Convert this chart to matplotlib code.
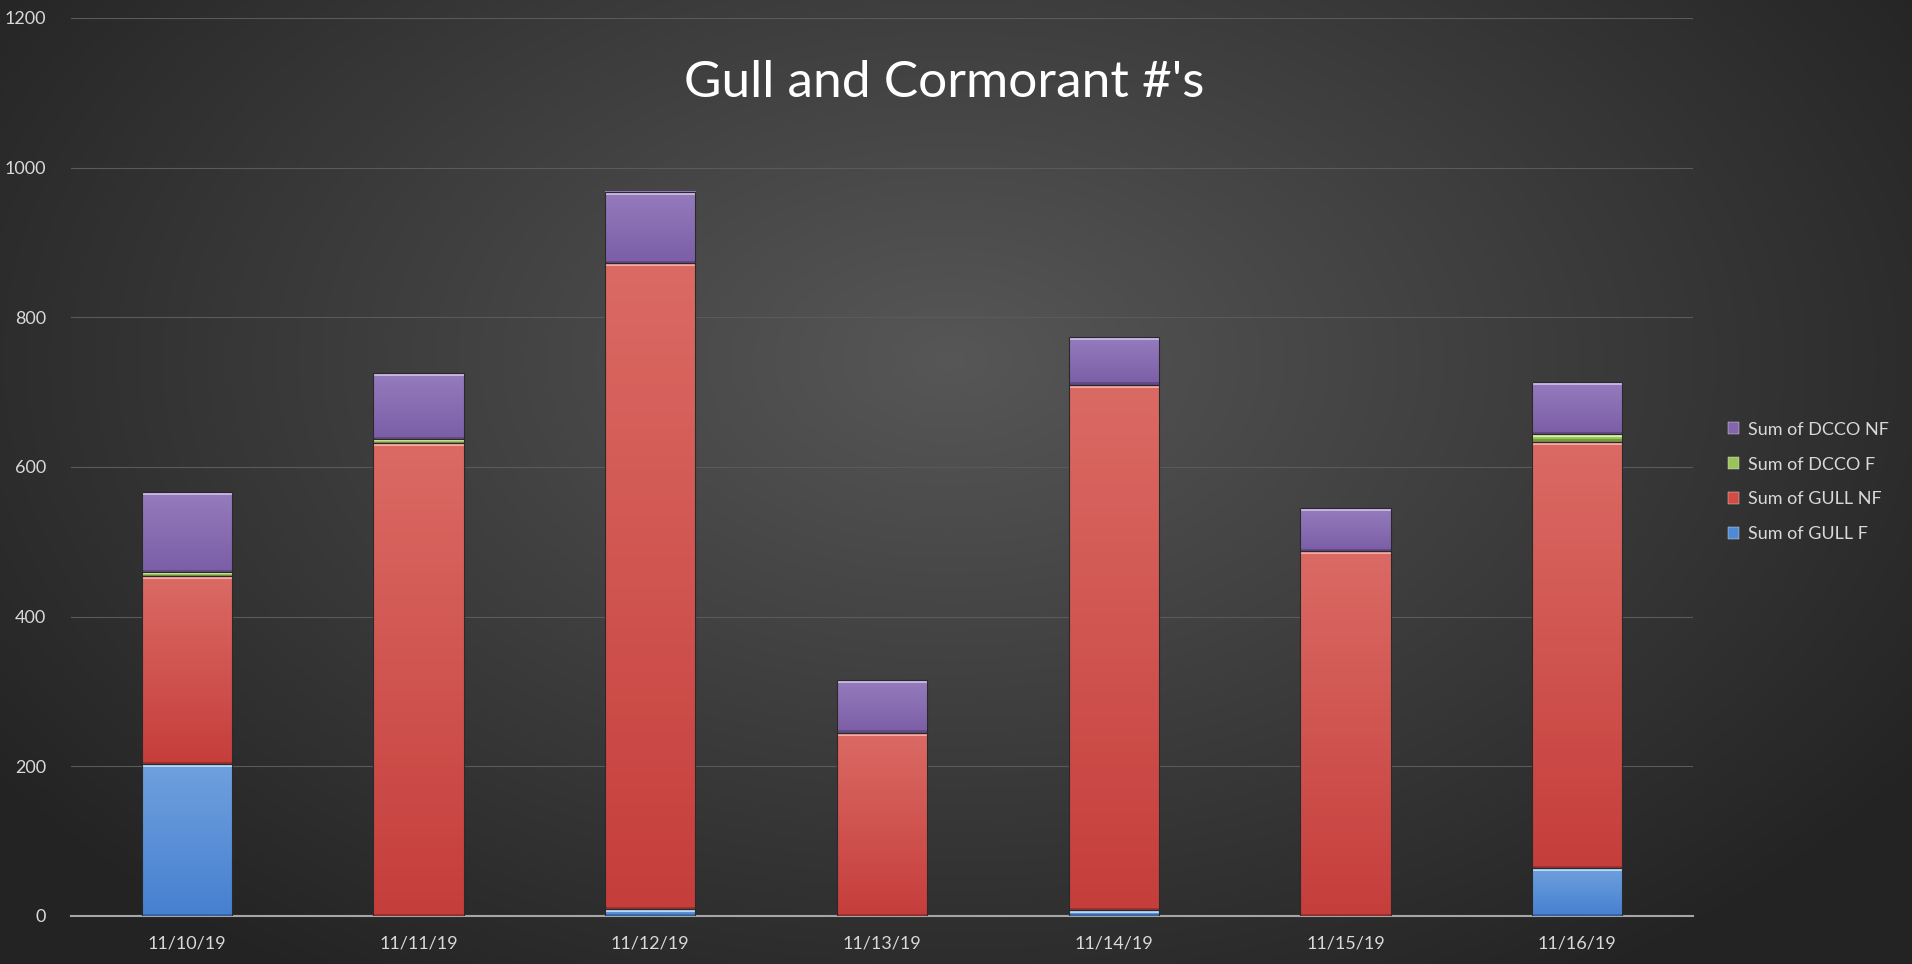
import numpy as np
import matplotlib
matplotlib.use("Agg")
import matplotlib.pyplot as plt
from matplotlib.patches import Rectangle
from matplotlib.colors import to_rgb

plt.rcParams['font.family'] = ['Lato', 'DejaVu Sans']

# data
dates = ['11/10/19', '11/11/19', '11/12/19', '11/13/19', '11/14/19', '11/15/19', '11/16/19']
gull_f = [203, 0, 9, 0, 8, 0, 64]
gull_nf = [251, 632, 863, 245, 702, 488, 570]
dcco_f = [6, 5, 0, 0, 0, 0, 10]
dcco_nf = [106, 88, 95, 70, 64, 57, 69]

# name, values, base colour, gradient top, gradient bottom, highlight
series = [
    ('Sum of GULL F', gull_f, '#4f8ad6', '#6fa0de', '#4680d0', '#b5d8f7'),
    ('Sum of GULL NF', gull_nf, '#d24b45', '#db6a64', '#c53e3c', '#f6aaa2'),
    ('Sum of DCCO F', dcco_f, '#9bc35a', '#a9cd6c', '#92bb52', '#dcf2a6'),
    ('Sum of DCCO NF', dcco_nf, '#8466ad', '#957cbd', '#7b5ea6', '#c8b4e4'),
]

fig = plt.figure(figsize=(19.12, 9.64), dpi=100)

# radial gradient background
bg = fig.add_axes([0, 0, 1, 1], zorder=-10)
yy, xx = np.mgrid[0:964, 0:1912]
r = np.sqrt(((xx - 950) / 1100.0) ** 2 + ((yy - 360) / 700.0) ** 2)
v = np.clip(0.34 - 0.19 * r, 0.14, 0.34)
bg.imshow(np.dstack([v, v, v]), aspect='auto', extent=[0, 1, 0, 1])
bg.axis('off')

ax = fig.add_axes([71 / 1912, 1 - 916 / 964, (1693 - 71) / 1912, (916 - 18) / 964])
ax.set_facecolor('none')

x = np.arange(len(dates))
width = 0.39
bottom = np.zeros(len(dates))
handles = []
for name, vals, col, top_c, bot_c, hi in series:
    vals = np.array(vals, dtype=float)
    bars = ax.bar(x, vals, width, bottom=bottom, color='none', edgecolor='#2a2a2a',
                  linewidth=0.8, zorder=5, label=name)
    t = np.linspace(0, 1, 64)[:, None]
    grad = (1 - t) * np.array(to_rgb(top_c)) + t * np.array(to_rgb(bot_c))
    grad = grad[:, None, :]
    for xi, b, h in zip(x, bottom, vals):
        if h <= 0:
            continue
        ax.imshow(grad, extent=[xi - width / 2, xi + width / 2, b, b + h],
                  aspect='auto', zorder=3, interpolation='bilinear')
        hh = min(4.0, h * 0.5)
        ax.add_patch(Rectangle((xi - width / 2, b + h - hh), width, hh,
                               facecolor=hi, edgecolor='none', zorder=4))
        ax.add_patch(Rectangle((xi - width / 2, b), width, min(3.0, h * 0.3),
                               facecolor='#000000', alpha=0.2, edgecolor='none', zorder=4))
    handles.append(Rectangle((0, 0), 1, 1, facecolor=col, edgecolor='#e6e6e6', linewidth=0.3))
    bottom += vals

ax.set_xlim(-0.5, len(dates) - 0.5)
ax.set_ylim(0, 1200)
ax.set_aspect('auto')
ax.set_yticks(range(0, 1201, 200))
ax.set_xticks(x)
ax.set_xticklabels(dates)
ax.grid(axis='y', color='#5a5a5a', linewidth=0.8, zorder=0)
for s in ['top', 'right', 'left']:
    ax.spines[s].set_visible(False)
ax.spines['bottom'].set_color('#a6a6a6')
ax.spines['bottom'].set_linewidth(1.5)
ax.tick_params(axis='both', length=0, colors='#d9d9d9', labelsize=13)
ax.tick_params(axis='x', pad=14)
ax.tick_params(axis='y', pad=18)

fig.text(944 / 1912, 1 - 83 / 964, "Gull and Cormorant #'s", ha='center', va='center',
         color='white', fontsize=37)

leg = fig.legend(handles[::-1], [s[0] for s in series][::-1], loc='center left',
                 bbox_to_anchor=(1712 / 1912, 1 - 482 / 964), frameon=False,
                 fontsize=13, labelcolor='#d9d9d9', handlelength=0.6, handleheight=0.6,
                 handletextpad=0.5, labelspacing=1.05)

fig.savefig('out.png', dpi=100)
